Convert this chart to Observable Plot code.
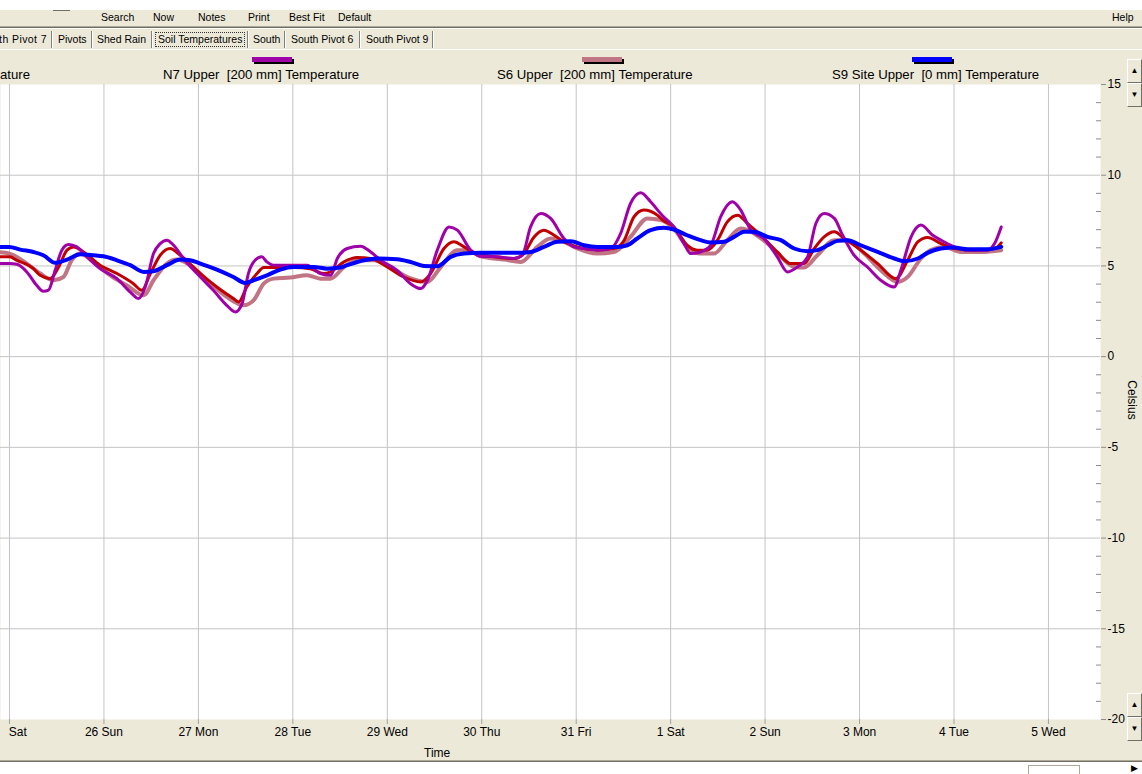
<!DOCTYPE html>
<html><head><meta charset="utf-8">
<script src="https://cdn.jsdelivr.net/npm/d3@7"></script>
<script src="https://cdn.jsdelivr.net/npm/@observablehq/plot@0.6"></script>
<style>
html,body{margin:0;padding:0}
body{width:1142px;height:774px;overflow:hidden;background:#ECE9D8;position:relative;font-family:"Liberation Sans",Arial,sans-serif;color:#000}
.abs{position:absolute;white-space:pre}
.menu{font-size:10.5px;top:11px;line-height:13px}
.tab{font-size:10.5px;top:33px;line-height:13px}
.sep{position:absolute;top:31px;height:17px;width:1px;background:#808080;border-right:1px solid #fff}
.sw{position:absolute;top:57px;width:40px;height:5px;box-shadow:2px 2px 0 #000}
.leg{font-size:13.2px;top:68px;line-height:14px}
.btn{position:absolute;left:1127px;width:13px;height:22px;background:#ECE9D8;border-top:1px solid #fff;border-left:1px solid #fff;border-right:1px solid #716F64;border-bottom:1px solid #716F64;font-size:8px;line-height:22px;text-align:center}
#chart{position:absolute;left:0;top:74px}
</style></head><body>
<div class="abs" style="left:0;top:0;width:1142px;height:10px;background:#fff"></div>
<div class="abs" style="left:53px;top:10px;width:17px;height:1px;background:#716F64"></div>
<div class="abs menu" style="left:101px">Search</div>
<div class="abs menu" style="left:153px">Now</div>
<div class="abs menu" style="left:198px">Notes</div>
<div class="abs menu" style="left:248px">Print</div>
<div class="abs menu" style="left:289px">Best Fit</div>
<div class="abs menu" style="left:338px">Default</div>
<div class="abs menu" style="left:1112px">Help</div>
<div class="abs" style="left:0;top:26px;width:1142px;height:1px;background:#ACA899"></div>
<div class="abs" style="left:0;top:27px;width:1142px;height:1px;background:#716F64"></div>
<div class="abs" style="left:0;top:28px;width:1142px;height:1px;background:#fff"></div>
<div class="abs tab" style="left:-19px;letter-spacing:0.4px">North Pivot 7</div>
<div class="sep" style="left:51px"></div>
<div class="abs tab" style="left:58px">Pivots</div>
<div class="sep" style="left:91px"></div>
<div class="abs tab" style="left:97px">Shed Rain</div>
<div class="sep" style="left:151px"></div>
<div class="abs tab" style="left:155px;top:32px;border:1px dotted #333;padding:0 2px">Soil Temperatures</div>
<div class="sep" style="left:247px"></div>
<div class="abs tab" style="left:253px">South</div>
<div class="sep" style="left:284px"></div>
<div class="abs tab" style="left:291px">South Pivot 6</div>
<div class="sep" style="left:359px"></div>
<div class="abs tab" style="left:366px">South Pivot 9</div>
<div class="sep" style="left:432px"></div>
<div class="abs" style="left:0;top:49px;width:1142px;height:1px;background:#fff"></div>
<div id="legend"></div>
<div id="chart"></div>
<div class="abs" style="left:0;top:724px;width:6px;height:20px;background:#ECE9D8"></div>
<div class="abs" style="left:1112px;top:393px;font-size:12px;transform:rotate(90deg);transform-origin:center">Celsius</div>
<div class="abs" style="left:424px;top:746px;font-size:12px">Time</div>
<div class="btn" style="top:59px">&#9650;</div>
<div class="btn" style="top:83px">&#9660;</div>
<div class="btn" style="top:693px">&#9650;</div>
<div class="btn" style="top:717px">&#9660;</div>
<div class="abs" style="left:0;top:760px;width:1142px;height:1px;background:#ACA899"></div>
<div class="abs" style="left:0;top:761px;width:1142px;height:1px;background:#716F64"></div>
<div class="abs" style="left:0;top:762px;width:1142px;height:12px;background:#fff"></div>
<div class="abs" style="left:1028px;top:765px;width:50px;height:10px;border-left:1px solid #ACA899;border-top:1px solid #ACA899;border-right:1px solid #ACA899;background:#fff"></div>
<div class="abs" style="left:1131px;top:763px;font-size:9px">&#9654;</div>
<script>
// ---- data: [hours since 25 Sat 00:00, °C] ----
const s6 = [[-2.4,5.75],[0,5.68],[4.4,5.13],[7.8,4.58],[11.2,4.21],[13.7,4.39],[15.8,5.31],[18.0,5.68],[21.3,5.22],[25.6,4.48],[29.8,3.93],[34.1,3.38],[36.6,4.21],[40.0,5.13],[42.5,5.35],[45.9,5.04],[50.2,4.21],[55.2,3.29],[59.5,2.83],[62.0,3.1],[64.6,4.02],[67.1,4.3],[71.3,4.36],[75.6,4.48],[79.0,4.3],[81.6,4.3],[85.0,4.94],[88.4,5.31],[92.6,5.31],[96.8,4.91],[101.1,4.39],[106.2,4.12],[109.6,4.94],[113.8,5.87],[116.3,5.87],[119.7,5.53],[125.7,5.35],[129.9,5.22],[134.1,6.05],[137.5,6.51],[140.9,6.33],[144.3,5.96],[149.4,5.68],[153.6,5.77],[157.8,6.6],[162.1,7.62],[165.5,7.53],[168.8,7.06],[172.2,6.05],[175.6,5.68],[179.0,5.68],[182.4,6.42],[185.8,7.06],[189.2,6.79],[192.6,6.23],[196.0,5.5],[199.4,4.94],[201.9,4.91],[205.3,5.59],[209.6,6.42],[212.9,6.42],[217.2,5.68],[221.4,4.76],[225.7,4.12],[228.2,4.39],[231.6,5.41],[234.1,5.87],[237.5,6.05],[241.8,5.77],[246.9,5.77],[252.0,5.87]];
const red = [[-2.4,5.5],[0,5.5],[1.9,5.31],[6.1,4.85],[7.8,4.48],[10.3,4.3],[12.5,4.94],[14.6,5.87],[16.3,6.05],[18.8,5.77],[23.0,5.04],[27.3,4.58],[31.5,4.02],[33.6,3.66],[35.8,4.58],[38.3,5.59],[40.8,5.96],[43.4,5.59],[48.5,4.58],[52.7,3.84],[56.9,3.2],[58.2,3.01],[60.3,3.84],[62.9,4.58],[64.6,4.91],[67.9,4.91],[72.2,4.91],[76.4,4.85],[79.8,4.58],[81.6,4.67],[85.0,5.22],[88.4,5.46],[91.8,5.41],[96.0,4.94],[100.2,4.39],[104.5,4.12],[107.0,4.58],[110.4,5.96],[112.9,6.33],[115.5,6.05],[118.0,5.72],[122.3,5.53],[128.2,5.41],[130.7,5.68],[133.3,6.6],[135.8,6.97],[138.4,6.69],[140.9,6.33],[144.3,6.05],[149.4,5.87],[153.6,5.96],[156.2,6.42],[158.7,7.71],[161.2,8.08],[164.6,7.8],[166.0,7.53],[168.8,7.15],[172.2,6.14],[174.8,5.87],[177.3,5.87],[179.9,6.42],[182.4,7.43],[185.0,7.8],[187.5,7.34],[190.9,6.69],[195.1,5.77],[198.5,5.13],[201.9,5.13],[204.5,5.96],[207.0,6.6],[209.6,6.88],[212.1,6.51],[216.3,5.87],[220.6,5.13],[225.2,4.3],[228.2,5.3],[230.8,6.33],[233.3,6.57],[236.7,6.23],[240.1,5.96],[245.2,5.87],[250.3,5.96],[252.0,6.27]];
const n7 = [[-2.4,5.13],[0,5.13],[1.9,5.09],[4.4,4.67],[6.9,3.93],[8.6,3.6],[9.9,3.66],[11.6,4.76],[13.3,5.87],[15.0,6.18],[17.1,6.05],[19.7,5.5],[23.0,4.85],[27.3,4.3],[30.7,3.56],[32.8,3.2],[34.5,3.84],[36.6,5.68],[38.3,6.23],[40.0,6.42],[41.7,6.14],[44.2,5.41],[48.5,4.39],[51.8,3.66],[55.2,2.83],[57.4,2.46],[59.1,2.92],[60.7,4.58],[62.4,5.31],[64.1,5.5],[65.4,5.22],[67.1,5.04],[72.2,5.04],[75.6,5.04],[79.0,4.58],[81.6,4.48],[83.3,5.41],[85.8,5.96],[89.2,6.09],[91.8,5.77],[94.3,5.31],[98.5,4.76],[101.9,4.02],[104.5,3.75],[106.2,4.21],[108.7,5.87],[111.7,7.15],[113.8,6.97],[117.2,5.87],[119.7,5.53],[124.0,5.5],[128.2,5.41],[130.3,5.59],[132.4,7.15],[135.0,7.89],[137.5,7.62],[140.9,6.51],[143.4,6.05],[146.0,5.96],[149.4,5.87],[152.8,5.96],[155.3,6.79],[157.8,8.44],[160.4,9.03],[162.9,8.54],[166.0,7.75],[168.8,7.15],[171.4,6.23],[173.1,5.68],[175.6,5.77],[178.2,6.14],[180.7,7.71],[183.7,8.54],[185.8,8.08],[188.4,6.97],[191.7,6.51],[195.1,5.5],[197.7,4.67],[200.2,4.94],[202.8,5.5],[204.9,7.34],[207.0,7.89],[209.6,7.62],[211.7,6.69],[214.6,5.59],[218.0,4.94],[221.4,4.21],[224.8,3.84],[226.5,4.76],[229.1,6.6],[231.6,7.25],[234.6,6.69],[236.7,6.42],[240.1,6.05],[243.5,5.87],[248.6,5.87],[250.3,6.23],[252.0,7.15]];
const s9 = [[-2.4,6.05],[0,6.05],[2.7,5.9],[6.1,5.77],[8.6,5.59],[11.6,5.17],[14.6,5.35],[18.0,5.64],[21.3,5.59],[23.9,5.53],[27.3,5.31],[30.7,5.04],[34.1,4.67],[36.6,4.71],[40.0,5.04],[43.4,5.35],[45.9,5.31],[48.5,5.13],[52.7,4.8],[56.9,4.39],[59.9,4.06],[62.0,4.21],[65.4,4.48],[68.8,4.8],[72.2,4.94],[77.3,4.94],[80.7,4.85],[84.0,4.91],[85.8,5.04],[90.1,5.31],[93.5,5.41],[98.5,5.37],[101.9,5.22],[105.3,5.0],[108.7,4.98],[112.1,5.5],[115.5,5.68],[119.7,5.72],[124.0,5.72],[129.0,5.72],[132.4,5.77],[135.8,6.05],[139.2,6.33],[142.6,6.36],[146.0,6.14],[149.4,6.05],[154.5,6.05],[157.0,6.14],[159.5,6.51],[162.9,6.97],[166.3,7.1],[168.8,7.01],[172.2,6.69],[175.6,6.42],[178.2,6.29],[181.6,6.33],[184.1,6.6],[186.7,6.88],[189.2,6.88],[192.6,6.6],[196.0,6.42],[199.4,5.96],[202.8,5.81],[205.3,5.87],[207.9,6.14],[210.4,6.38],[212.9,6.42],[216.3,6.14],[220.6,5.77],[224.8,5.41],[227.4,5.26],[230.8,5.41],[233.3,5.72],[236.7,5.96],[240.1,6.01],[243.5,5.92],[248.6,5.92],[252.0,6.05]];

const seriesLabels = ["ature", "N7 Upper  [200 mm] Temperature", "S6 Upper  [200 mm] Temperature", "S9 Site Upper  [0 mm] Temperature"];
const seriesColors = ["#C00000", "#A000A8", "#C07484", "#0000FF"];
const yMajor = [-20, -15, -10, -5, 0, 5, 10, 15];
const dayCount = 12; // 25 Sat .. 5 Wed

// ---- build ----
const start = Date.UTC(2007, 7, 25);
const HOUR = 3600e3, DAY = 864e5;
const rows = (pairs) => pairs.map(([h, t]) => ({time: new Date(start + h * HOUR), temp: t}));
const days = d3.range(dayCount).map(i => new Date(start + i * DAY));
const yMinor = d3.range(-20, 16).filter(v => v % 5 !== 0);
const pxPerDay = 94.45, plotW = 1100, firstDayPx = 9;

// legend
const legend = document.getElementById("legend");
[[1, 252, 163], [2, 582, 497], [3, 912, 832]].forEach(([i, swx, lx]) => {
  const s = document.createElement("div"); s.className = "sw";
  s.style.left = swx + "px"; s.style.background = seriesColors[i]; legend.appendChild(s);
  const t = document.createElement("div"); t.className = "abs leg";
  t.style.left = lx + "px"; t.textContent = seriesLabels[i]; legend.appendChild(t);
});
{ const t = document.createElement("div"); t.className = "abs leg"; t.style.left = "0px"; t.textContent = seriesLabels[0]; legend.appendChild(t); }

const line = (data, color, w) => Plot.line(rows(data), {x: "time", y: "temp", stroke: color, strokeWidth: w, curve: "monotone-x", clip: true, strokeLinejoin: "round", strokeLinecap: "round"});

const chart = Plot.plot({
  width: 1142, height: 690,
  marginTop: 10, marginBottom: 45, marginLeft: 0, marginRight: 42,
  x: {type: "utc", domain: [new Date(start - firstDayPx / pxPerDay * DAY), new Date(start + (plotW - firstDayPx) / pxPerDay * DAY)]},
  y: {domain: [-20, 15]},
  style: {background: "transparent", fontFamily: '"Liberation Sans", Arial, sans-serif', fontSize: "12px", color: "#000", overflow: "visible"},
  marks: [
    Plot.frame({fill: "white", stroke: "none"}),
    Plot.gridX(days, {stroke: "#c4c4c4", strokeOpacity: 1}),
    Plot.gridY(yMajor.slice(1, -1), {stroke: "#c4c4c4", strokeOpacity: 1}),
    line(s6, seriesColors[2], 4),
    line(red, seriesColors[0], 3),
    line(n7, seriesColors[1], 3),
    line(s9, seriesColors[3], 4),
    Plot.axisX(days, {tickFormat: d3.utcFormat("%-d %a"), tickSize: 5, tickPadding: 3, stroke: "#a0a0a0", fill: "#000", fontSize: 12, label: null}),
    Plot.axisY(yMajor, {anchor: "right", tickSize: 5, tickPadding: 2, stroke: "#8c8c8c", fill: "#000", fontSize: 12, label: null, tickFormat: d => String(d)}),
    Plot.axisY(yMinor, {anchor: "right", tickSize: 5, dx: -5, stroke: "#8c8c8c", tickFormat: () => "", label: null})
  ]
});
document.getElementById("chart").appendChild(chart);
</script>
</body></html>
